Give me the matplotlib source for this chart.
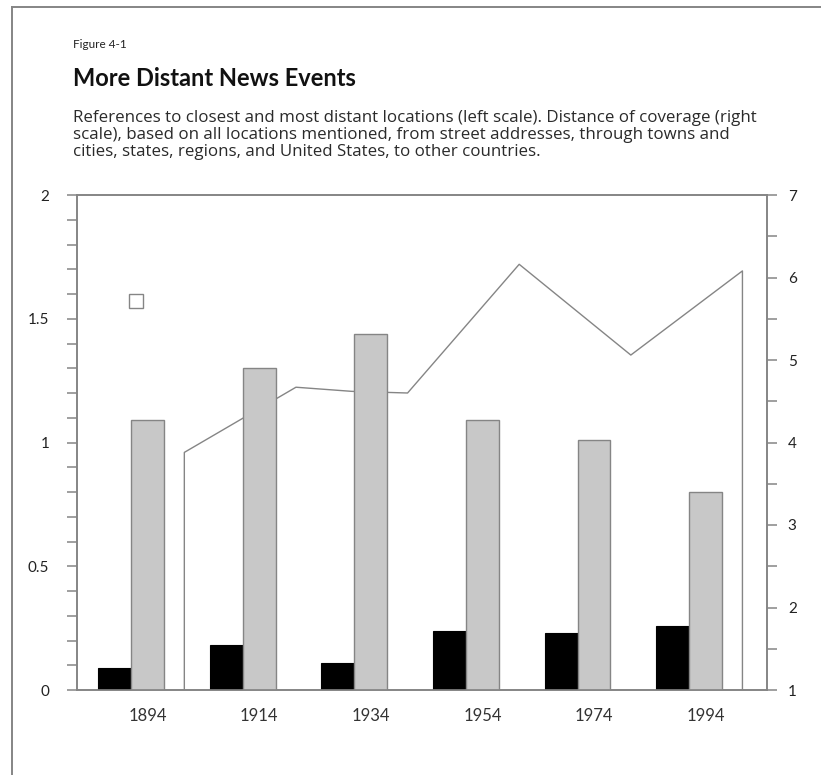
import matplotlib
matplotlib.use("Agg")
from matplotlib import pyplot as plt
from matplotlib.lines import Line2D
from matplotlib.ticker import MultipleLocator

plt.rcParams['font.family'] = ['Lato', 'DejaVu Sans']

## data
years = [1894, 1914, 1934, 1954, 1974, 1994]
closest = [0.09, 0.18, 0.11, 0.24, 0.23, 0.26]        ## black bars (left scale)
most_distant = [1.09, 1.30, 1.44, 1.09, 1.01, 0.80]   ## gray bars (left scale)
dist_years = [1900, 1920, 1930, 1940, 1960, 1980, 2000]
distance = [3.88, 4.67, 4.62, 4.60, 6.16, 5.06, 6.08]  ## coverage (right scale)
marker_year = [1892]
marker_val = [1.57]

desc_lines = [
    "References to closest and most distant locations (left scale). Distance of coverage (right",
    "scale), based on all locations mentioned, from street addresses, through towns and",
    "cities, states, regions, and United States, to other countries.",
]

GRAY = "#858585"
W = 5.9           ## bar width in years
SHIFT = 0.6       ## area series offset

fig = plt.figure(figsize=(8.21, 7.75), dpi=100)

## page border (top and left)
fig.add_artist(Line2D([12/821, 1], [1-7/775, 1-7/775], color=GRAY, lw=1.4))
fig.add_artist(Line2D([12/821, 12/821], [0, 1-7/775], color=GRAY, lw=1.4))

## titles
fig.text(73/821, 1-45/775, "Figure 4-1", fontsize=8.5, va="center", color="#222")
fig.text(73/821, 1-79/775, "More Distant News Events", fontsize=17,
         fontweight="bold", va="center", color="#111")
for i, line in enumerate(desc_lines):
    fig.text(73/821, 1-(118+17*i)/775, line, fontsize=12.2, va="center",
             ha="left", color="#2a2a2a", family=["Open Sans", "DejaVu Sans"])

ax2 = fig.add_axes([77/821, 85/775, 690/821, 495/775])
ax = ax2.twinx()
ax.yaxis.tick_left()
ax2.yaxis.tick_right()
ax.set_zorder(ax2.get_zorder()+1)
ax.patch.set_visible(False)

## area on right scale, white fill, behind bars
xs = [y + SHIFT for y in dist_years]
ax2.fill_between(xs, 1, distance, facecolor="white", edgecolor="none")
ax2.plot([xs[0]] + xs + [xs[-1]], [1] + distance + [1], color=GRAY, lw=1.0)

## bars on left scale
ax.bar([y - W for y in years], closest, width=W, color="black", edgecolor="black", lw=0.8)
ax.bar(years, most_distant, width=W, color="#c8c8c8", edgecolor=GRAY, lw=1.0)
ax.plot(marker_year, marker_val, "s", ms=10, mfc="white", mec=GRAY, mew=1.0)

xlim = (1881.37, 2005.0)
ax.set_xlim(*xlim)
ax2.set_xlim(*xlim)
ax.set_ylim(0, 2)
ax2.set_ylim(1, 7)

ax.set_yticks([0, 0.5, 1, 1.5, 2])
ax.set_yticklabels(["0", "0.5", "1", "1.5", "2"])
ax.yaxis.set_minor_locator(MultipleLocator(0.1))
ax2.yaxis.set_major_locator(MultipleLocator(1))
ax2.yaxis.set_minor_locator(MultipleLocator(0.5))

for a in (ax, ax2):
    for s in a.spines.values():
        s.set_color(GRAY)
        s.set_linewidth(1.2)

ax.tick_params(axis="y", which="both", direction="out", length=7, width=1.1,
               color=GRAY, labelsize=11, pad=13, labelcolor="#222")
ax2.tick_params(axis="y", which="both", direction="out", length=7, width=1.1,
                color=GRAY, labelsize=11, pad=8, labelcolor="#222")

ax.set_xticks([])
ax2.set_xticks(years)
ax2.set_xticklabels([str(y) for y in years])
ax2.tick_params(axis="x", length=0, labelsize=12, pad=13, labelcolor="#333")

plt.savefig("out.png", dpi=100)
